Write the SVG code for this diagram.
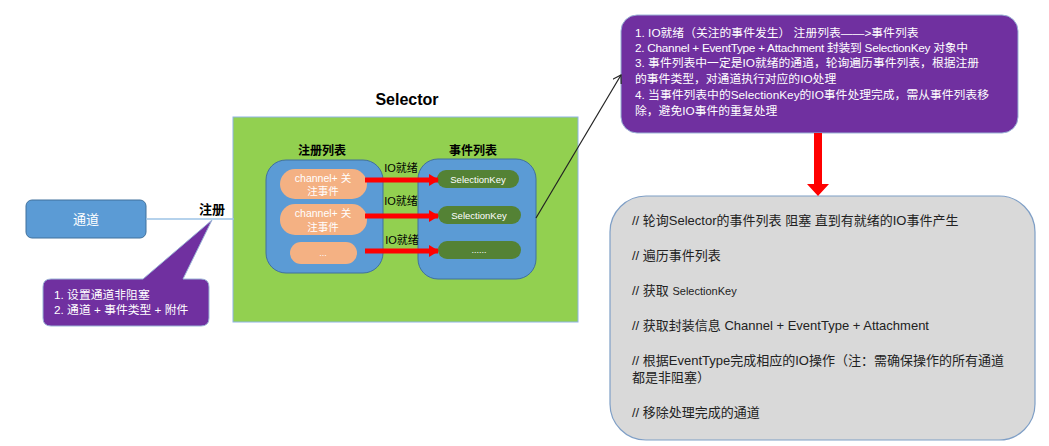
<svg xmlns="http://www.w3.org/2000/svg" width="1049" height="446" viewBox="0 0 1049 446">
<style>
text{font-family:"Liberation Sans","Noto Sans CJK SC",sans-serif}
.w{fill:#fff}
.b{font-weight:bold;fill:#000}
.pill{fill:#f4b183}
.key{fill:#548235}
.blue{fill:#5b9bd5;stroke:#41719c;stroke-width:1}
.red{stroke:#ff0000;stroke-width:5;fill:none}
</style>
<defs>
<marker id="rh" markerUnits="userSpaceOnUse" markerWidth="10" markerHeight="12" refX="9" refY="6" orient="auto">
<path d="M0,0 L10,6 L0,12 Z" fill="#ff0000"/>
</marker>
<marker id="bh" markerUnits="userSpaceOnUse" markerWidth="10" markerHeight="10" refX="8" refY="5" orient="auto">
<path d="M0,0 L8,5 L0,10" fill="none" stroke="#222" stroke-width="1.2"/>
</marker>
</defs>
<rect width="1049" height="446" fill="#fff"/>

<g id="channel">
<rect x="26" y="200" width="120" height="38" rx="6" class="blue"/>
<text x="86" y="224" text-anchor="middle" font-size="13" class="w">通道</text>
</g>

<g id="register-label">
<text x="212" y="214" text-anchor="middle" font-size="13" class="b">注册</text>
</g>

<g id="callout-register">
<path d="M51,279 L143,279 L212,220 L183,279 L201,279 Q209,279 209,287 L209,318 Q209,326 201,326 L51,326 Q43,326 43,318 L43,287 Q43,279 51,279 Z" fill="#7030a0" stroke="#9ab3d6" stroke-width="1"/>
<text x="54" y="299" font-size="11.8" class="w">1. 设置通道非阻塞</text>
<text x="54" y="314" font-size="11.8" class="w">2. 通道 + 事件类型 + 附件</text>
</g>

<g id="selector">
<rect x="233" y="117" width="345" height="205" fill="#92d050" stroke="#8eb4e3" stroke-width="1"/>
<text x="407" y="105" text-anchor="middle" font-size="16" class="b">Selector</text>
</g>

<g id="register-list">
<text x="322" y="155" text-anchor="middle" font-size="12" class="b">注册列表</text>
<rect x="266" y="160" width="117" height="113" rx="20" class="blue"/>
<rect x="280" y="169" width="87" height="30" rx="15" class="pill"/>
<text x="323" y="182" text-anchor="middle" font-size="10.5" class="w">channel+ 关</text>
<text x="323" y="195" text-anchor="middle" font-size="10.5" class="w">注事件</text>
<rect x="280" y="204" width="87" height="31" rx="15" class="pill"/>
<text x="323" y="217" text-anchor="middle" font-size="10.5" class="w">channel+ 关</text>
<text x="323" y="231" text-anchor="middle" font-size="10.5" class="w">注事件</text>
<rect x="290" y="242" width="67" height="22" rx="11" class="pill"/>
<text x="323" y="256" text-anchor="middle" font-size="9" class="w">...</text>
</g>

<g id="event-list">
<text x="473" y="155" text-anchor="middle" font-size="12" class="b">事件列表</text>
<rect x="418" y="159" width="118" height="120" rx="20" class="blue"/>
<rect x="437" y="170" width="82" height="18" rx="9" class="key"/>
<text x="478" y="183" text-anchor="middle" font-size="9.5" class="w">SelectionKey</text>
<rect x="438" y="206" width="83" height="18" rx="9" class="key"/>
<text x="479" y="219" text-anchor="middle" font-size="9.5" class="w">SelectionKey</text>
<rect x="438" y="241" width="83" height="18" rx="9" class="key"/>
<text x="479" y="253" text-anchor="middle" font-size="9" class="w">......</text>
</g>

<g id="io-labels" font-size="11">
<text x="401" y="172" text-anchor="middle">IO就绪</text>
<text x="401" y="205" text-anchor="middle">IO就绪</text>
<text x="402" y="244" text-anchor="middle">IO就绪</text>
</g>

<g id="notes">
<rect x="621" y="15" width="397" height="118" rx="16" fill="#7030a0" stroke="#9ab3d6" stroke-width="1"/>
<g font-size="11.8" class="w">
<text x="635" y="37">1. IO就绪（关注的事件发生） 注册列表——&gt;事件列表</text>
<text x="635" y="52" textLength="333" lengthAdjust="spacing">2. Channel + EventType + Attachment 封装到 SelectionKey 对象中</text>
<text x="635" y="67">3. 事件列表中一定是IO就绪的通道，轮询遍历事件列表，根据注册</text>
<text x="635" y="83">的事件类型，对通道执行对应的IO处理</text>
<text x="635" y="99">4. 当事件列表中的SelectionKey的IO事件处理完成，需从事件列表移</text>
<text x="635" y="115">除，避免IO事件的重复处理</text>
</g>
</g>

<g id="steps">
<rect x="610" y="196" width="425" height="244" rx="36" fill="#d9d9d9" stroke="#7f9fc6" stroke-width="1.2"/>
<g font-size="13" fill="#222">
<text x="632" y="225">// 轮询Selector的事件列表 阻塞 直到有就绪的IO事件产生</text>
<text x="632" y="260">// 遍历事件列表</text>
<text x="632" y="295">// 获取 <tspan font-size="11">SelectionKey</tspan></text>
<text x="632" y="330">// 获取封装信息 Channel + EventType + Attachment</text>
<text x="632" y="365">// 根据EventType完成相应的IO操作（注：需确保操作的所有通道</text>
<text x="632" y="382">都是非阻塞）</text>
<text x="632" y="417">// 移除处理完成的通道</text>
</g>
</g>

<g id="connectors">
<line x1="146" y1="219" x2="234" y2="219" stroke="#9dc3e6" stroke-width="1.5"/>
<line x1="365" y1="180" x2="438" y2="180" class="red" marker-end="url(#rh)"/>
<line x1="365" y1="216" x2="438" y2="216" class="red" marker-end="url(#rh)"/>
<line x1="365" y1="251" x2="438" y2="251" class="red" marker-end="url(#rh)"/>
<line x1="536" y1="218" x2="621" y2="75" stroke="#222" stroke-width="1.2" marker-end="url(#bh)"/>
<path d="M814,133 L822,133 L822,184 L829,184 L818,196 L807,184 L814,184 Z" fill="#ff0000"/>
</g>
</svg>
